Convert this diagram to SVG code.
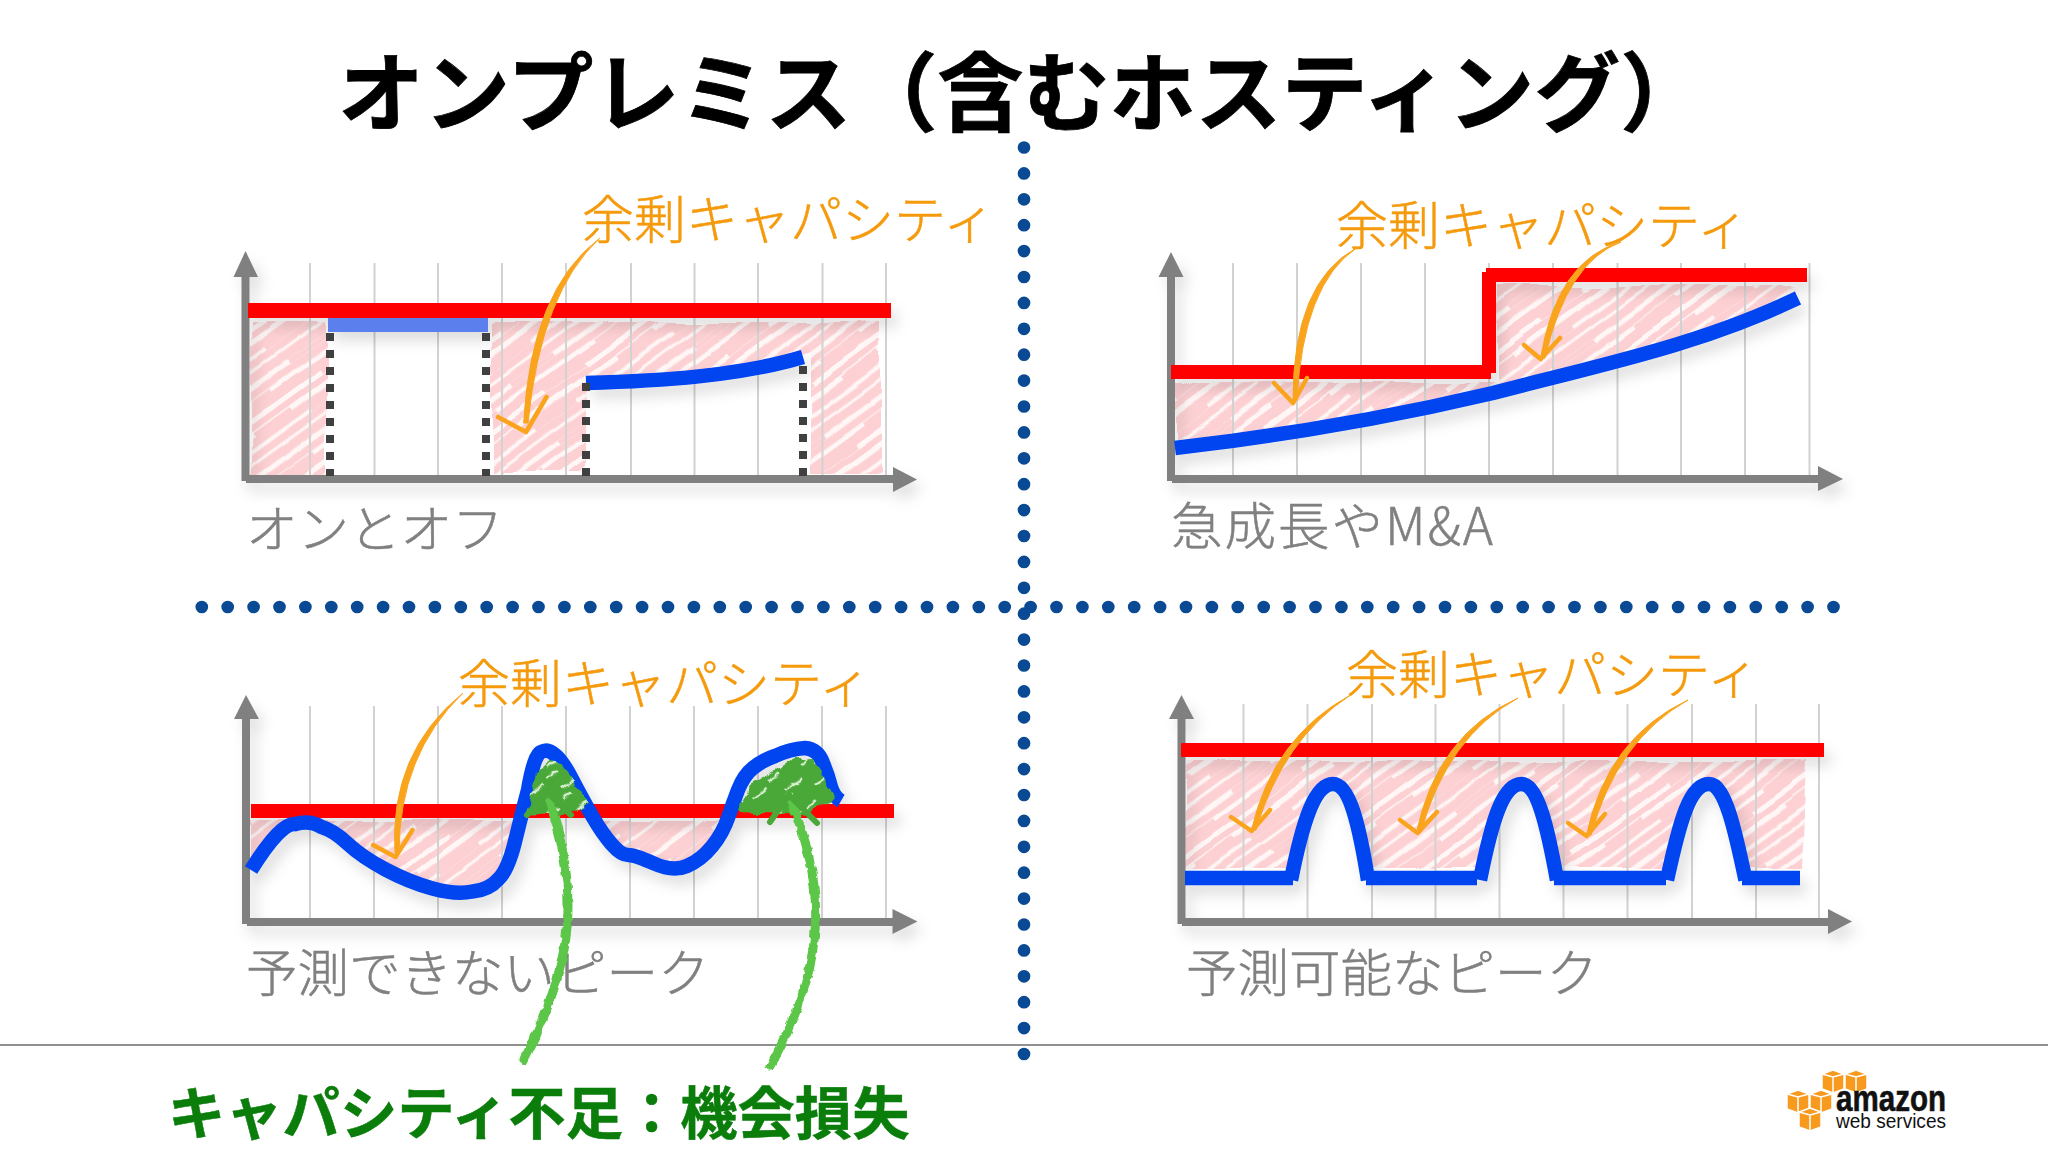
<svg xmlns="http://www.w3.org/2000/svg" width="2048" height="1152" viewBox="0 0 2048 1152">
<style>
text{font-family:"Noto Sans CJK JP","Liberation Sans",sans-serif}
.title{font-size:86px;font-weight:700;fill:#000;stroke:#000;stroke-width:.8}
.short{font-size:52px;font-weight:300;fill:#f59a0c;stroke:#f59a0c;stroke-width:.5}
.cap{font-size:51.500px;font-weight:300;fill:#808080;stroke:#808080;stroke-width:.5}
.loss{font-size:57.300px;font-weight:700;fill:#0a7d0a;stroke:#0a7d0a;stroke-width:.5}
.grid{stroke:#d2d2d2;stroke-width:2;fill:none}
.axis{stroke:#808080;stroke-width:8;fill:none}
.head{fill:#808080;stroke:none}
.red{fill:#ff0000}
.blue{stroke:#0645f0;stroke-width:14.500;fill:none}
.dash{stroke:#404040;stroke-width:8;stroke-dasharray:8 9;fill:none}
.hatch{fill:url(#pink);filter:url(#rough)}
.ghatch{fill:url(#green);filter:url(#rough2)}
.org{stroke:#f9a41c;stroke-width:4.500;fill:none;stroke-linecap:round;stroke-linejoin:round}
.orgf{fill:#f9a41c;stroke:#f9a41c;stroke-width:1;stroke-linejoin:round}
.grn{stroke:#5cc648;stroke-width:9;fill:none;stroke-linecap:round;stroke-linejoin:round;filter:url(#rough3)}
.grnh{stroke:#4aa838;stroke-width:6;fill:none;stroke-linecap:round;stroke-linejoin:round}
.dots{stroke:#0a4a94;stroke-width:12.700;stroke-linecap:round;stroke-dasharray:0 25.900;fill:none}
.cube{fill:#f79a1e;stroke:#fff;stroke-width:1.500;stroke-linejoin:round}
.cl{stroke:#fff;stroke-width:1.500;fill:none}
</style>
<defs>
<pattern id="pink" patternUnits="userSpaceOnUse" width="170" height="75" patternTransform="rotate(-36)">
<rect width="170" height="75" fill="#fff6f6"/>
<g stroke="#fdd0d3" fill="none">
<path stroke-width="9" d="M-5 6H175"/>
<path stroke-width="7" d="M-5 19H175"/>
<path stroke-width="10" d="M-5 32H175"/>
<path stroke-width="6" d="M-5 45H175"/>
<path stroke-width="9" d="M-5 58H175"/>
<path stroke-width="7" d="M-5 70H175"/>
</g>
<g stroke="#fdd0d3" stroke-width="5" fill="none">
<path d="M20 13H70"/><path d="M110 26H160"/><path d="M40 39H90"/><path d="M120 52H165"/><path d="M10 64H60"/>
</g>
</pattern>
<pattern id="green" patternUnits="userSpaceOnUse" width="60" height="26" patternTransform="rotate(-35)">
<rect width="60" height="26" fill="#4aa838"/>
<path d="M8 6H30M38 19H56M2 15H14" stroke="#d8f0d0" stroke-width="2.500" fill="none"/>
</pattern>
<filter id="rough" x="-5%" y="-5%" width="110%" height="110%">
<feTurbulence type="fractalNoise" baseFrequency="0.012" numOctaves="2" seed="4" result="n"/>
<feDisplacementMap in="SourceGraphic" in2="n" scale="10" xChannelSelector="R" yChannelSelector="G"/>
</filter>
<filter id="rough2" x="-15%" y="-15%" width="130%" height="130%">
<feTurbulence type="fractalNoise" baseFrequency="0.09" numOctaves="2" seed="7" result="n"/>
<feDisplacementMap in="SourceGraphic" in2="n" scale="9" xChannelSelector="R" yChannelSelector="G"/>
</filter>
<filter id="rough3" x="-40%" y="-5%" width="180%" height="110%">
<feTurbulence type="fractalNoise" baseFrequency="0.12" numOctaves="2" seed="9" result="n"/>
<feDisplacementMap in="SourceGraphic" in2="n" scale="5" xChannelSelector="R" yChannelSelector="G"/>
</filter>
<filter id="sh" x="-10%" y="-30%" width="125%" height="170%">
<feDropShadow dx="6" dy="9" stdDeviation="7" flood-color="#000" flood-opacity="0.13"/>
</filter>
</defs>
<rect width="2048" height="1152" fill="#fff"/>

<g id="title"><text class="title" x="338" y="125">オンプレミス（含むホスティング）</text></g>
<g id="dividers">
<path class="dots" d="M1024 147.500V1056"/>
<path class="dots" d="M201.800 607H1840"/>
<path d="M0 1045H2048" stroke="#909090" stroke-width="2"/>
</g>

<g id="chart-on-off">
<path class="hatch" d="M252 322H326V476H252ZM492 322H881V474H809V352C740 375 660 380 586 380V474H492Z"/>
<path class="grid" d="M310 263V476M374.500 263V476M438 263V476M502 263V476M566 263V476M631 263V476M694.500 263V476M758 263V476M822.500 263V476M886 263V476"/>
<g filter="url(#sh)">
<path class="axis" d="M245.500 272V481"/><path class="head" d="M233.500 277L245.500 251L258 277Z"/>
<path class="axis" d="M246 479H895"/><path class="head" d="M893 467L917 479.500L893 492Z"/>
<rect class="red" x="248" y="303" width="643" height="15"/>
<rect x="328" y="318" width="160" height="14" fill="#5b7fee"/>
<path class="blue" d="M586 383C660 381 740 376 803 357"/>
</g>
<path class="dash" d="M330 333V476M486 333V476M586 383V476M803 366V476"/>
<text class="short" x="582" y="239">余剰キャパシティ</text>
<text class="cap" x="246" y="548">オンとオフ</text>
</g>

<g id="chart-growth">
<path class="hatch" d="M1176 383H1497V286H1796V300C1700 352 1600 375 1493 393C1400 420 1290 432 1176 448Z"/>
<path class="grid" d="M1233 263V476M1297 263V476M1361 263V476M1425 263V476M1489 263V476M1553 263V476M1617.500 263V476M1681 263V476M1745 263V476M1809.500 263V476"/>
<g filter="url(#sh)">
<path class="axis" d="M1171 272V481"/><path class="head" d="M1158.500 277L1171 252L1183.500 277Z"/>
<path class="axis" d="M1172 479H1820"/><path class="head" d="M1818 466L1843 479L1818 491Z"/>
<path class="red" d="M1171 365H1482V272H1486V268H1807V282H1496V373H1491V379H1171Z"/>
<path class="blue" d="M1175 448C1290 435 1400 415 1493 393C1600 365 1700 345 1798 298"/>
</g>
<text class="short" x="1336" y="245">余剰キャパシティ</text>
<text class="cap" x="1171" y="545" textLength="322" lengthAdjust="spacing">急成長やM&amp;A</text>
</g>

<g id="chart-unpredictable">
<path class="hatch" d="M251 821H516L508 870L489 888L456 895L409 882L362 857L333 830L310 822L281 837L251 870ZM592 821L602 833L621 855L635 855L673 872L701 860L723 833L728 821Z"/>
<path class="grid" d="M310 706V919M374 706V919M438 706V919M502 706V919M566 706V919M630 706V919M694 706V919M758 706V919M822 706V919M886 706V919"/>
<g filter="url(#sh)">
<path class="axis" d="M246 715V924"/><path class="head" d="M234 719L246 695L259 719Z"/>
<path class="axis" d="M247 922H895"/><path class="head" d="M892.500 909L917.500 921.500L892.500 934Z"/>
<rect class="red" x="251" y="804" width="643" height="14"/>
<path class="blue" d="M251 870Q281 822 295.500 824Q310 820 321.500 827Q333 830 347.500 843.500Q362 857 385.500 869.500Q409 882 432.500 888.500Q456 895 472.500 891.500Q489 890 498.500 879Q508 870 515 841.500Q522 813 528 790Q534 755 541 752Q548 748 555 755Q562 760 572.500 780Q583 800 592.500 816.500Q602 833 611.500 844Q621 855 628 855Q635 855 654 863.500Q673 872 687 866Q701 860 712 846.500Q723 833 728.500 816.500Q733 803 738 790Q744 775 753 768Q763 760 775 756Q790 749 805 748Q818 749 823 763Q828 775 831 787Q834 797 841 801"/>
</g>
<path class="ghatch" d="M526 813L536 775L550 760L560 762L588 805L569 815Z"/>
<path class="ghatch" d="M738 812L750 785L796 758L814 758L834 800L805 815Z"/>
<text class="short" x="458" y="703">余剰キャパシティ</text>
<text class="cap" x="246" y="992">予測できないピーク</text>
</g>

<g id="chart-predictable">
<path class="hatch" d="M1185 761H1806L1802 868H1745C1735 820 1725 784 1709 784C1690 784 1680 820 1667 868H1557C1548 820 1538 784 1521.500 784C1503 784 1492 820 1480 868H1368C1360 820 1350 784 1333 784C1315 784 1303 820 1291 868H1185Z"/>
<path class="grid" d="M1243.500 704V919M1307.500 704V919M1372 704V919M1435.500 704V919M1499.500 704V919M1563.500 704V919M1627.500 704V919M1692 704V919M1756 704V919M1819 704V919"/>
<g filter="url(#sh)">
<path class="axis" d="M1181.500 715V924"/><path class="head" d="M1169 719L1181.500 695L1194 719Z"/>
<path class="axis" d="M1182 922H1830"/><path class="head" d="M1828 909L1852 921.500L1828 934Z"/>
<rect class="red" x="1181" y="743" width="643" height="14"/>
<path class="blue" d="M1185 878H1293"/><path class="blue" d="M1366 878H1477"/><path class="blue" d="M1554 878H1666"/><path class="blue" d="M1742 878H1800"/>
<path class="blue" d="M1291 880C1303 820 1315 784 1333 784C1350 784 1360 830 1368 880"/>
<path class="blue" d="M1480 880C1492 820 1503 784 1521.500 784C1538 784 1548 830 1557 880"/>
<path class="blue" d="M1667 880C1680 820 1690 784 1709 784C1725 784 1735 830 1745.500 880"/>
</g>
<text class="short" x="1346" y="694">余剰キャパシティ</text>
<text class="cap" x="1186" y="992">予測可能なピーク</text>
</g>

<g id="connectors">
<path class="orgf" d="M600 238Q531 290 523.600 423L528 423Q541 292 600 238Z"/><path class="org" d="M498 417L526 432L546.500 397"/>
<path class="orgf" d="M1356.500 248Q1293 282 1293 400L1297 400Q1303 284 1356.500 248Z"/><path class="org" d="M1274 383L1293 403L1307 378"/>
<path class="orgf" d="M1621 242Q1557 260 1540.600 358L1545 358Q1567 262 1621 242Z"/><path class="org" d="M1524 345L1540.600 359L1560 338"/>
<path class="orgf" d="M463 693Q389 753 395 853L399 853Q399 755 463 693Z"/><path class="org" d="M373 845L395.500 857L412.500 830"/>
<path class="orgf" d="M1350.600 695Q1273 737 1251.500 830L1256 830Q1283 739 1350.600 695Z"/><path class="org" d="M1231 817L1251.500 831L1270 810"/>
<path class="orgf" d="M1518 698Q1437 735 1416.600 832L1421 832Q1447 737 1518 698Z"/><path class="org" d="M1400 820L1417.600 833L1437 812"/>
<path class="orgf" d="M1688 700Q1607 738 1586.500 835L1591 835Q1617 740 1688 700Z"/><path class="org" d="M1568 823L1586.500 836L1605 814"/>
<path class="grn" d="M524 1060C575 960 580 890 548 797"/>
<path class="grn" d="M770 1066C830 960 825 880 789 797"/>
<path class="grnh" d="M527 815L548 793L571 815"/>
<path class="grnh" d="M770 822L789 795L817 823"/>
</g>

<g id="bottom-label"><text class="loss" x="168" y="1134">キャパシティ不足：機会損失</text></g>

<g id="aws-logo">
<path class="cube" d="M1822 1074L1833 1070L1844 1074V1089L1833 1093L1822 1089Z"/><path class="cl" d="M1822 1074L1833 1077L1844 1074M1833 1077V1093"/>
<path class="cube" d="M1845 1074L1856 1070L1867 1074V1089L1856 1093L1845 1089Z"/><path class="cl" d="M1845 1074L1856 1077L1867 1074M1856 1077V1093"/>
<path class="cube" d="M1787 1094L1798 1090L1809 1094V1109L1798 1113L1787 1109Z"/><path class="cl" d="M1787 1094L1798 1097L1809 1094M1798 1097V1113"/>
<path class="cube" d="M1810 1094L1821 1090L1832 1094V1109L1821 1113L1810 1109Z"/><path class="cl" d="M1810 1094L1821 1097L1832 1094M1821 1097V1113"/>
<path class="cube" d="M1799 1112L1810 1108L1821 1112V1127L1810 1131L1799 1127Z"/><path class="cl" d="M1799 1112L1810 1115L1821 1112M1810 1115V1131"/>
<text x="1836" y="1111" textLength="110" lengthAdjust="spacingAndGlyphs" style="font-family:'Liberation Sans',sans-serif;font-size:36px;font-weight:700;fill:#111;stroke:#111;stroke-width:.6">amazon</text>
<text x="1836" y="1128" textLength="110" lengthAdjust="spacingAndGlyphs" style="font-family:'Liberation Sans',sans-serif;font-size:20px;fill:#111">web services</text>
</g>
</svg>
